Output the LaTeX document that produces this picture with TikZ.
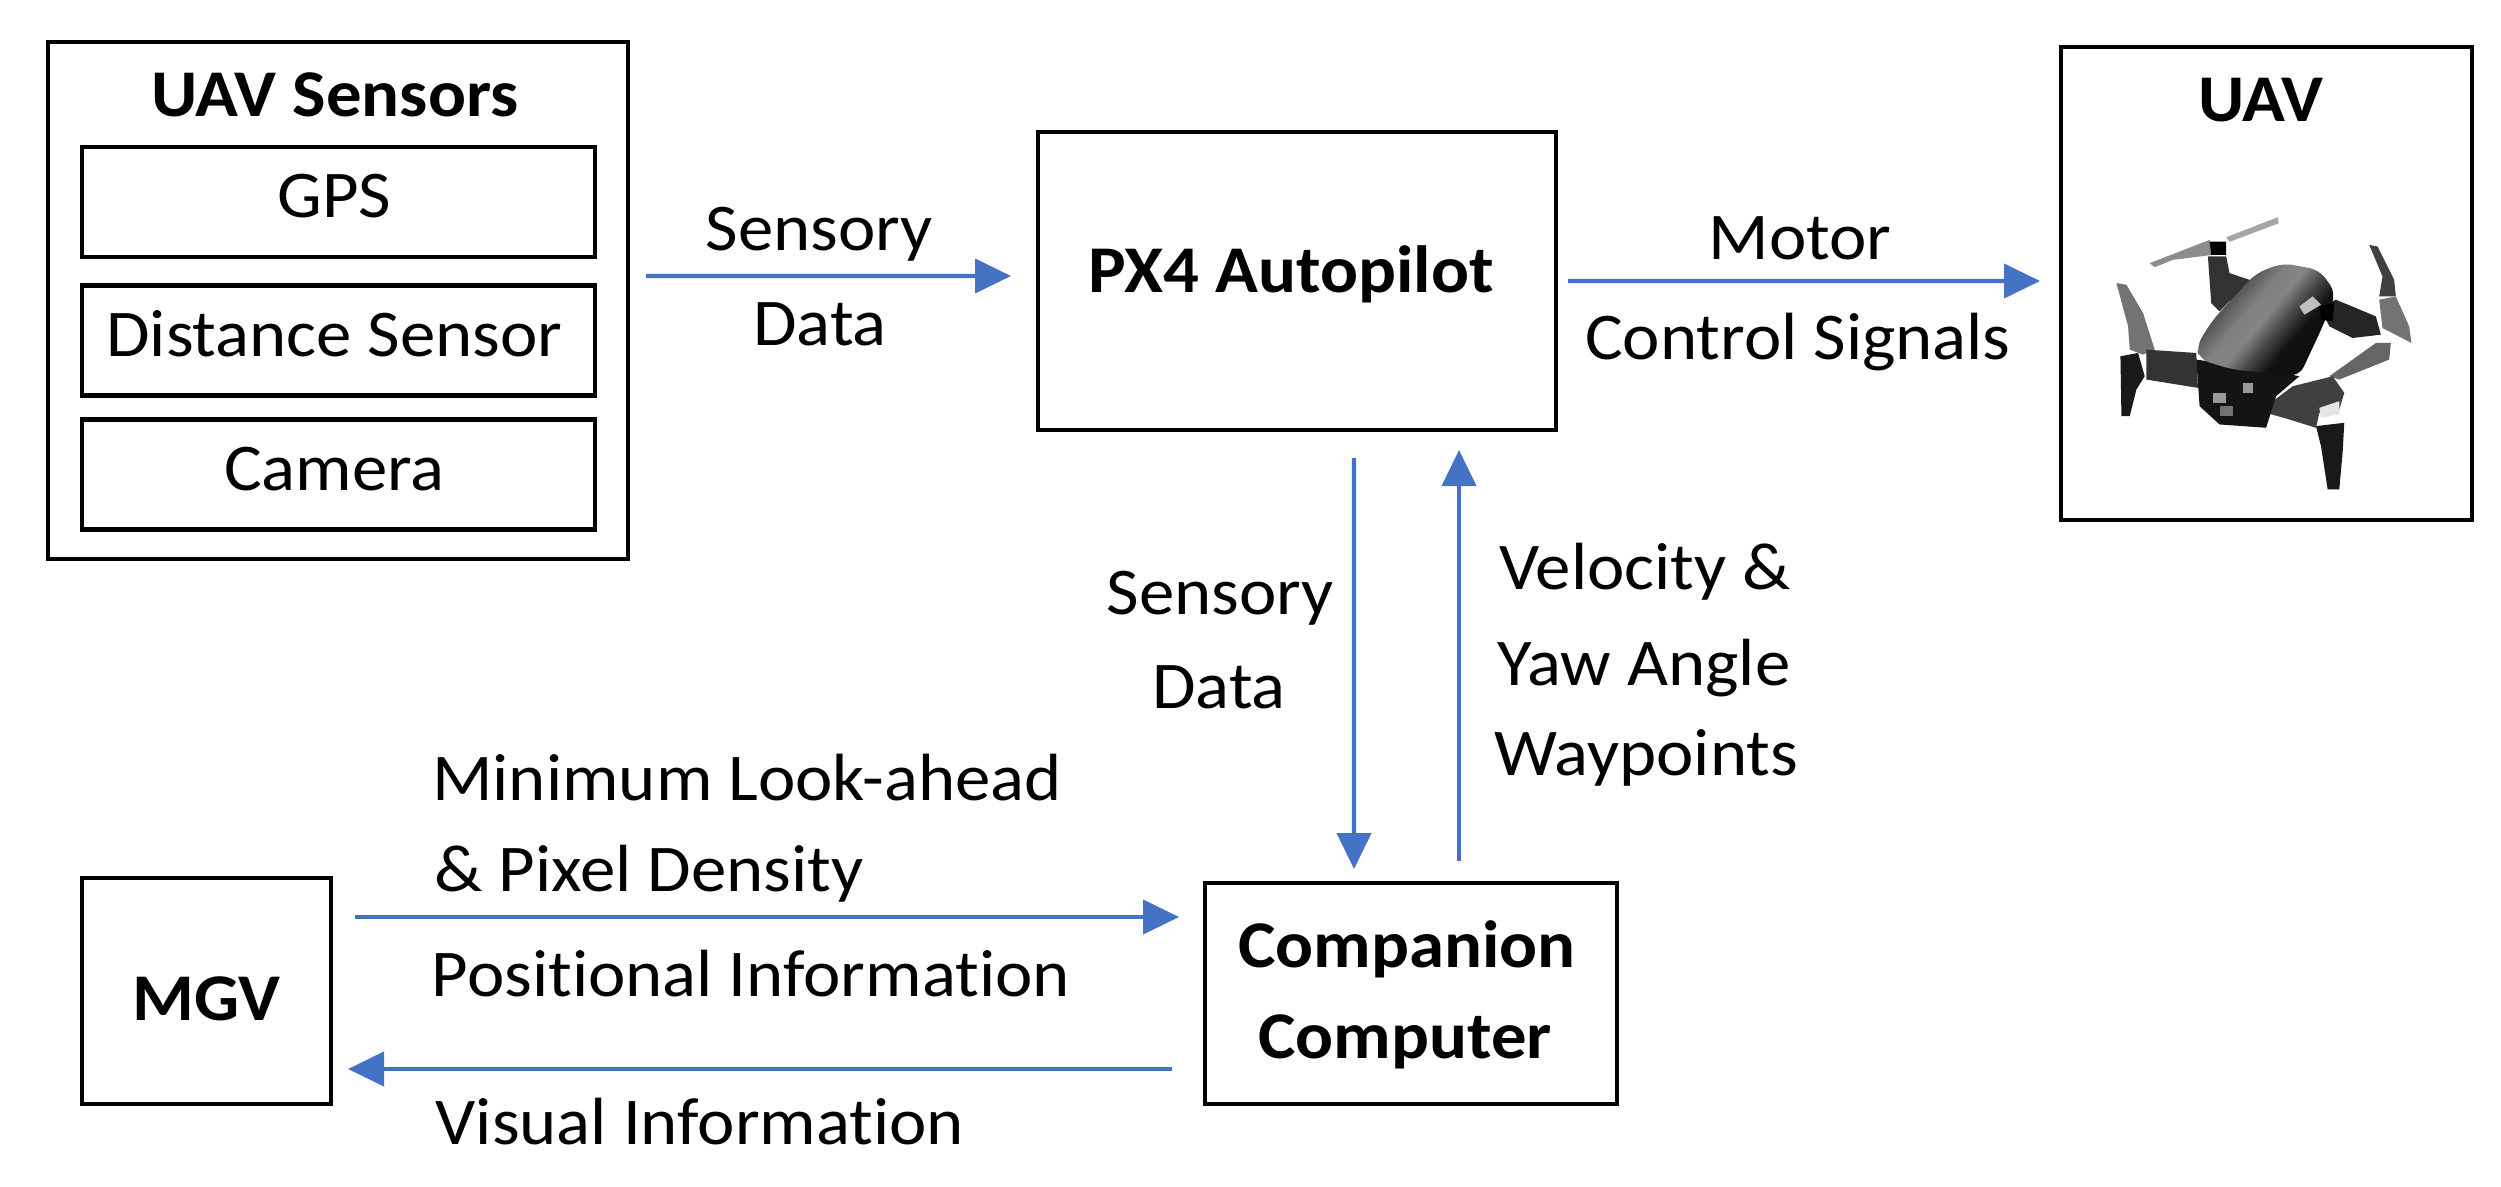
\documentclass[tikz,border=0pt]{standalone}
\usepackage{fontspec}
\setmainfont[FakeStretch=1.06, Ligatures=NoCommon]{Carlito}
\usetikzlibrary{arrows.meta}
\definecolor{flowblue}{HTML}{4472C4}
\pgfdeclarehorizontalshading{bodyshade}{100bp}{color(0bp)=(black!80); color(32bp)=(black!72); color(42bp)=(black!50); color(49bp)=(black!48); color(56bp)=(black!72); color(63bp)=(black!93); color(100bp)=(black!97)}
\tikzset{
    blockbox/.style={draw, line width=1.25pt, inner sep=0pt, outer sep=0pt, align=center, font=\fontsize{19}{23}\selectfont},
    boldtext/.style={font=\fontsize{19}{23}\selectfont\bfseries},
    lbl/.style={anchor=base, inner sep=0pt, outer sep=0pt, font=\fontsize{19}{23}\selectfont},
    blbl/.style={lbl, font=\fontsize{19}{23}\selectfont\bfseries},
    flow/.style={draw=flowblue, line width=1.2pt, -{Triangle[length=3.6mm, width=3.4mm]}, flowblue},
}

\begin{document}
\begin{tikzpicture}
    \useasboundingbox (0,0) rectangle (25.01,-11.87);

    % boxes
    \node[blockbox, minimum width=5.80cm, minimum height=5.17cm] (sensors) at (3.38,-3.005) {};
    \foreach \name/\txt/\y in {gps/GPS/-2.02, dist/Distance Sensor/-3.405, cam/Camera/-4.745} {
            \node[blockbox, minimum width=5.13cm, minimum height=1.10cm, text height=4.4mm, text depth=1.2mm] (\name) at (3.385,\y) {\hspace*{-0.8mm}\txt};
        }
    \node[blockbox, boldtext, minimum width=5.18cm, minimum height=2.98cm, text height=3.6mm, text depth=1.2mm] (px4) at (12.97,-2.81) {\hspace*{-1.2mm}PX4 Autopilot};
    \node[blockbox, minimum width=4.11cm, minimum height=4.73cm] (uav) at (22.665,-2.835) {};
    \node[blockbox, boldtext, minimum width=2.49cm, minimum height=2.26cm, text height=5.8mm, text depth=0mm] (mgv) at (2.065,-9.91) {MGV};
    \node[blockbox, minimum width=4.12cm, minimum height=2.21cm] (comp) at (14.11,-9.935) {};

    % labels
    \foreach \name/\txt/\x/\y in {ttlsens/UAV Sensors/3.35/-1.165, ttluav/UAV/22.61/-1.215, ttlcompa/Companion/14.07/-9.675, ttlcompb/Computer/14.05/-10.585} {
            \node[blbl] (\name) at (\x,\y) {\txt};
        }
    \foreach \name/\txt/\x/\y in {
            sensa/Sensory/8.19/-2.505, sensb/Data/8.20/-3.455,
            motora/Motor/18.00/-2.595, motorb/Control Signals/17.98/-3.595,
            downa/Sensory/12.20/-6.145, downb/Data/12.19/-7.085,
            upa/Velocity \&/16.45/-5.895, upb/Yaw Angle/16.44/-6.855, upc/Waypoints/16.46/-7.755,
            looka/Minimum Look-ahead/7.47/-8.005, lookb/\& Pixel Density/6.49/-8.915,
            posn/Positional Information/7.51/-9.965, visn/Visual Information/7.00/-11.445} {
            \node[lbl] (\name) at (\x,\y) {\txt};
        }

    % signals
    \draw[flow] ([shift={(0.18,0.245)}]sensors.east) -- ([shift={(-0.27,0.05)}]px4.west);
    \draw[flow] ([shift={(0.12,0)}]px4.east) -- ([shift={(-0.21,0.025)}]uav.west);
    \draw[flow] ([shift={(0.57,-0.28)}]px4.south) -- ([shift={(-0.57,0.14)}]comp.north);
    \draw[flow] ([shift={(0.48,0.22)}]comp.north) -- ([shift={(1.62,-0.20)}]px4.south);
    \draw[flow] ([shift={(0.24,0.74)}]mgv.east) -- ([shift={(-0.26,0.765)}]comp.west);
    \draw[flow] ([shift={(-0.33,-0.755)}]comp.west) -- ([shift={(0.17,-0.78)}]mgv.east);

    % drone
    \begin{scope}[shift={(20,-1.8)}, x=0.00333cm, y=-0.00333cm]
        \fill[black!45] (450,250) -- (630,180) -- (640,225) -- (520,240) -- (465,262) -- cycle;
        \fill[black!35] (680,172) -- (835,112) -- (838,130) -- (690,186) -- cycle;
        \fill[black!55!white] (350,310) -- (380,315) -- (430,400) -- (465,510) -- (430,525) -- (390,510) -- (385,440) -- cycle;
        \fill[black!75] (1110,195) -- (1135,200) -- (1185,300) -- (1190,350) -- (1140,350) -- (1150,290) -- cycle;
        \fill[black!55] (1140,360) -- (1190,350) -- (1230,440) -- (1237,490) -- (1150,445) -- cycle;
        \fill[black!60] (1130,490) -- (1175,490) -- (1170,540) -- (1020,600) -- (990,590) -- cycle;
        \fill[black!80] (625,230) -- (680,230) -- (690,280) -- (750,300) -- (765,330) -- (690,365) -- (660,395) -- (635,370) -- cycle;
        \fill[black!85] (960,380) -- (1010,360) -- (1130,410) -- (1145,465) -- (1060,475) -- (990,440) -- cycle;
        \fill[black!80] (440,510) -- (590,520) -- (595,625) -- (440,600) -- cycle;
        \fill[black!90] (362,530) -- (415,520) -- (435,590) -- (410,630) -- (390,710) -- (365,710) -- cycle;
        \fill[black!75] (800,680) -- (880,620) -- (1000,590) -- (1035,640) -- (1020,690) -- (960,700) -- (950,745) -- (870,720) -- (800,700) -- cycle;
        \fill[black!90] (950,740) -- (1035,730) -- (1030,820) -- (1020,930) -- (985,930) -- (965,800) -- cycle;
        \fill[black!10] (960,685) -- (1020,665) -- (1020,705) -- (965,715) -- cycle;
        \fill[black!92] (590,540) -- (600,680) -- (660,735) -- (800,745) -- (830,650) -- (900,590) -- (800,570) -- cycle;
        \shade[rounded corners=1mm, shading=bodyshade, shading angle=-40]
            (590,500) -- (640,420) -- (770,280) -- (850,250) -- (960,270) -- (1010,340) -- (970,440) -- (900,590) -- (800,580) -- (700,570) -- (600,540) -- cycle;
        \fill[black!25] (900,380) -- (940,350) -- (965,375) -- (915,405) -- cycle;
        \fill[black] (630,185) -- (680,185) -- (680,225) -- (635,225) -- cycle;
        \fill[black] (960,380) -- (1005,370) -- (1000,425) -- (965,420) -- cycle;
        \fill[black!40] (640,640) rectangle (680,670);
        \fill[black!40] (730,610) rectangle (760,640);
        \fill[black!55] (660,680) rectangle (700,710);
    \end{scope}
\end{tikzpicture}
\end{document}
